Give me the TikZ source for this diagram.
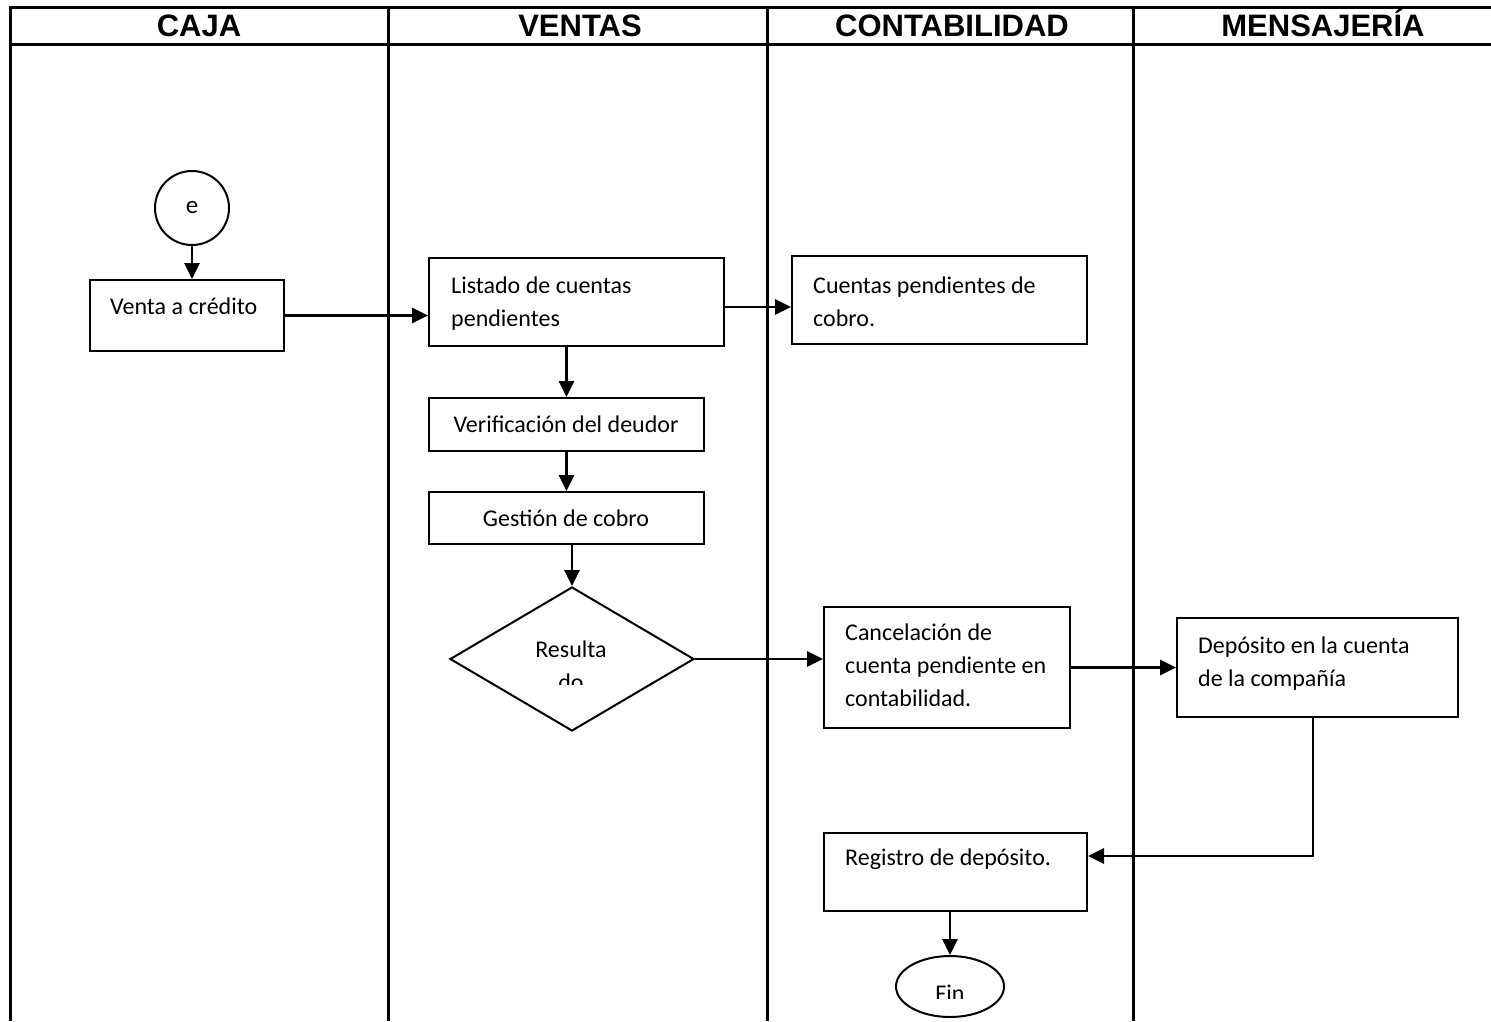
\documentclass[tikz,border=0pt]{standalone}
\usepackage{fontspec}
\setmainfont{Carlito}
\newfontfamily\hdrfont{Liberation Sans}
\usetikzlibrary{shapes.geometric,arrows.meta,calc}
\begin{document}
\begin{tikzpicture}[x=1pt,y=-1pt,
  lane/.style={line width=3pt},
  box/.style={draw, line width=2pt, rectangle, inner sep=0pt},
  txt/.style={inner sep=0pt, font=\fontsize{24}{33}\selectfont},
  hdr/.style={inner sep=0pt, font=\hdrfont\bfseries\fontsize{31}{36}\selectfont},
  flow/.style={line width=2.8pt, -{Triangle[length=16pt,width=15pt]}}]
\useasboundingbox (0,0) rectangle (1491,1021);

% swimlane frame
\draw[lane] (10,1021) -- (10,7) -- (1491,7);
\draw[lane] (10,44) -- (1491,44);
\draw[lane] (388,7) -- (388,1021);
\draw[lane] (767,7) -- (767,1021);
\draw[lane] (1133,7) -- (1133,1021);

% headers
\node[hdr, anchor=base] (hcaja) at (199,36) {CAJA};
\node[hdr, anchor=base] (hventas) at (580,36) {VENTAS};
\node[hdr, anchor=base] (hconta) at (952,36) {CONTABILIDAD};
\node[hdr, anchor=base] (hmens) at (1323,36) {MENSAJERÍA};

% shapes
\node[draw, circle, line width=2pt, minimum size=74pt, inner sep=0pt, font=\fontsize{25}{30}\selectfont] (e) at (192,208) {e};
\node[box, minimum width=194pt, minimum height=71pt] (venta) at (187,315.5) {};
\node[box, minimum width=295pt, minimum height=88pt] (listado) at (576.5,302) {};
\node[box, minimum width=295pt, minimum height=88pt] (cuentas) at (939.5,300) {};
\node[box, minimum width=275pt, minimum height=53pt] (verif) at (566.5,424.5) {};
\node[box, minimum width=275pt, minimum height=52pt] (gest) at (566.5,518) {};
\node[draw, diamond, line width=2pt, inner sep=0pt, minimum width=244pt, minimum height=144pt, aspect=1.694] (dia) at (572,659) {};
\node[box, minimum width=246pt, minimum height=121pt] (canc) at (947,667.5) {};
\node[box, minimum width=281pt, minimum height=99pt] (dep) at (1317.5,667.5) {};
\node[box, minimum width=263pt, minimum height=78pt] (reg) at (955.5,872) {};
\node[draw, ellipse, line width=2pt, inner sep=0pt, minimum width=108pt, minimum height=61pt] (fin) at (950,986.5) {};

% texts
\node[txt, anchor=base west] (tventa) at (110,314) {Venta a crédito};
\node[txt, anchor=base west] (tlist) at (451,293) {\parbox[t]{270pt}{Listado de cuentas\\pendientes}};
\node[txt, anchor=base west] (tcuen) at (813,293) {\parbox[t]{270pt}{Cuentas pendientes de\\cobro.}};
\node[txt, anchor=base] (tverif) at (566,432) {Verificación del deudor};
\node[txt, anchor=base] (tgest) at (566,526) {Gestión de cobro};
\node[txt, anchor=base] (tres) at (571,657) {Resulta};
\begin{scope}
  \clip (450,600) rectangle (694,684);
  \node[txt, anchor=base] (tdo) at (571,690) {do};
\end{scope}
\node[txt, anchor=base west] (tcanc) at (845,640) {\parbox[t]{220pt}{Cancelación de\\cuenta pendiente en\\contabilidad.}};
\node[txt, anchor=base west] (tdep) at (1198,653) {\parbox[t]{250pt}{Depósito en la cuenta\\de la compañía}};
\node[txt, anchor=base west] (treg) at (845,865) {Registro de depósito.};
\begin{scope}
  \clip (896,960) rectangle (1004,998);
  \node[txt, anchor=base] (tfin) at (950,1001) {Fin};
\end{scope}

% connectors
\draw[flow] (e.south) -- (e.south |- venta.north);
\draw[flow] (venta.east) -- (venta.east -| listado.west);
\draw[flow] ($(listado.east)+(0,5)$) -- ($(cuentas.west)+(0,7)$);
\draw[flow] (listado.south -| verif.north) -- (verif.north);
\draw[flow] (verif.south) -- (gest.north);
\draw[flow] (gest.south -| dia.north) -- (dia.north);
\draw[flow] (dia.east) -- (dia.east -| canc.west);
\draw[flow] (canc.east) -- (canc.east -| dep.west);
\coordinate (b1) at (1313,856);
\draw[flow] (dep.south -| b1) |- (reg.east |- b1);
\draw[flow] (reg.south -| fin.north) -- (fin.north);
\end{tikzpicture}
\end{document}
